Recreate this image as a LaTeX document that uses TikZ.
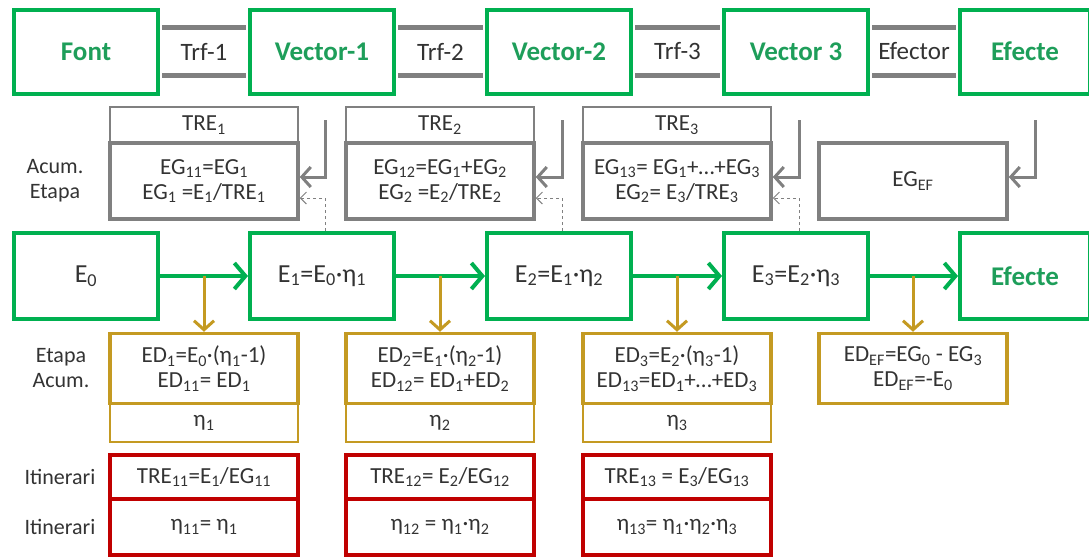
\documentclass[tikz,border=0pt]{standalone}
\usepackage{fontspec}
\setmainfont{Carlito}
\usetikzlibrary{arrows.meta}
\definecolor{grn}{HTML}{00B050}
\definecolor{gtxt}{HTML}{1E9E5A}
\definecolor{gry}{HTML}{808080}
\definecolor{gld}{HTML}{C49A22}
\definecolor{rd}{HTML}{C00000}
\definecolor{ink}{HTML}{333333}
\newcommand{\sbs}[1]{\textsubscript{#1}}
\begin{document}
\begin{tikzpicture}[x=1pt,y=-1pt,
  every node/.style={inner sep=0pt,text=ink,align=center,font=\fontsize{23}{25}\selectfont},
  srcbox/.style={draw=grn,line width=4pt,minimum width=144pt,minimum height=84pt,text=gtxt,font=\fontsize{27}{30}\selectfont\bfseries},
  ebox/.style={draw=grn,line width=4pt,minimum width=144pt,minimum height=86pt,font=\fontsize{26}{30}\selectfont},
  trf/.style={font=\fontsize{25}{30}\selectfont},
  bandline/.style={gry,line width=5pt,shorten <=2pt,shorten >=2pt},
  trebox/.style={draw=gry,line width=1.2pt,minimum width=188pt,minimum height=36pt},
  egbox/.style={draw=gry,line width=3.5pt,minimum width=188pt,minimum height=76pt},
  edbox/.style={draw=gld,line width=3.5pt,minimum width=188pt,minimum height=70pt},
  etabox/.style={draw=gld,line width=1.2pt,minimum width=188pt,minimum height=38pt},
  itbox/.style={draw=rd,line width=3.5pt,minimum width=188pt},
  lbl/.style={font=\fontsize{22}{25}\selectfont},
  greenarr/.style={grn,line width=4pt,-{Straight Barb[length=11pt,width=26pt]}},
  goldarr/.style={gld,line width=3pt,-{Straight Barb[length=9pt,width=20pt]}},
  grayarr/.style={gry,line width=3pt,-{Straight Barb[length=9pt,width=20pt]}},
  dasharr/.style={gry,line width=1pt,dash pattern=on 3pt off 3pt,-{Straight Barb[length=6pt,width=12pt]}}]
\useasboundingbox (0,0) rectangle (1089,558);
\node[srcbox] (font) at (86,51.5) {Font};
\node[srcbox] (v1) at (322,51.5) {Vector-1};
\node[srcbox] (v2) at (559,51.5) {Vector-2};
\node[srcbox] (v3) at (796,51.5) {Vector 3};
\node[srcbox,minimum width=130pt] (efa) at (1025,51.5) {Efecte};
\foreach \a/\b/\t in {font/v1/Trf-1,v1/v2/Trf-2,v2/v3/Trf-3,v3/efa/Efector} {
  \draw[bandline] ([yshift=24pt]\a.east) -- ([yshift=24pt]\b.west);
  \draw[bandline] ([yshift=-24pt]\a.east) -- ([yshift=-24pt]\b.west);
  \path (\a.east) -- node[trf] {\t} (\b.west);
}
\node[trebox] (tre1) at (204,125) {TRE\sbs{1}};
\node[trebox] (tre2) at (440,125) {TRE\sbs{2}};
\node[trebox] (tre3) at (677,125) {TRE\sbs{3}};
\node[egbox] (eg1) at (204,181) {EG\sbs{11}=EG\sbs{1}\\EG\sbs{1} =E\sbs{1}/TRE\sbs{1}};
\node[egbox] (eg2) at (440,181) {EG\sbs{12}=EG\sbs{1}+EG\sbs{2}\\EG\sbs{2} =E\sbs{2}/TRE\sbs{2}};
\node[egbox] (eg3) at (677,181) {EG\sbs{13}= EG\sbs{1}+…+EG\sbs{3}\\EG\sbs{2}= E\sbs{3}/TRE\sbs{3}};
\node[egbox] (eg4) at (913,181) {EG\sbs{EF}};
\node[lbl] (acum1) at (55,181) {Acum.\\Etapa};
\node[ebox] (e0) at (86,276) {E\sbs{0}};
\node[ebox] (e1) at (322,276) {E\sbs{1}=E\sbs{0}·η\sbs{1}};
\node[ebox] (e2) at (559,276) {E\sbs{2}=E\sbs{1}·η\sbs{2}};
\node[ebox] (e3) at (796,276) {E\sbs{3}=E\sbs{2}·η\sbs{3}};
\node[ebox,minimum width=130pt,text=gtxt,font=\fontsize{27}{30}\selectfont\bfseries] (efb) at (1025,276) {Efecte};
\draw[greenarr] (e0) -- (e1);
\draw[greenarr] (e1) -- (e2);
\draw[greenarr] (e2) -- (e3);
\draw[greenarr] (e3) -- (efb);
\node[edbox] (ed1) at (204,368.5) {ED\sbs{1}=E\sbs{0}·(η\sbs{1}-1)\\ED\sbs{11}= ED\sbs{1}};
\node[edbox] (ed2) at (440,368.5) {ED\sbs{2}=E\sbs{1}·(η\sbs{2}-1)\\ED\sbs{12}= ED\sbs{1}+ED\sbs{2}};
\node[edbox] (ed3) at (677,368.5) {ED\sbs{3}=E\sbs{2}·(η\sbs{3}-1)\\ED\sbs{13}=ED\sbs{1}+…+ED\sbs{3}};
\node[edbox] (ed4) at (913,368.5) {ED\sbs{EF}=EG\sbs{0} - EG\sbs{3}\\ED\sbs{EF}=-E\sbs{0}};
\node[lbl] (etapa2) at (61,368.5) {Etapa\\Acum.};
\draw[goldarr] (ed1.north |- e0.east) -- (ed1.north);
\draw[goldarr] (ed2.north |- e1.east) -- (ed2.north);
\draw[goldarr] (ed3.north |- e2.east) -- (ed3.north);
\draw[goldarr] (ed4.north |- e3.east) -- (ed4.north);
\node[etabox] (eta1) at (204,423) {η\sbs{1}};
\node[etabox] (eta2) at (440,423) {η\sbs{2}};
\node[etabox] (eta3) at (677,423) {η\sbs{3}};
\node[itbox,minimum height=44pt] (it1) at (204,477) {TRE\sbs{11}=E\sbs{1}/EG\sbs{11}};
\node[itbox,minimum height=44pt] (it2) at (440,477) {TRE\sbs{12}= E\sbs{2}/EG\sbs{12}};
\node[itbox,minimum height=44pt] (it3) at (677,477) {TRE\sbs{13} = E\sbs{3}/EG\sbs{13}};
\node[itbox,minimum height=56pt] (ie1) at (204,527) {η\sbs{11}= η\sbs{1}};
\node[itbox,minimum height=56pt] (ie2) at (440,527) {η\sbs{12} = η\sbs{1}·η\sbs{2}};
\node[itbox,minimum height=56pt] (ie3) at (677,527) {η\sbs{13}= η\sbs{1}·η\sbs{2}·η\sbs{3}};
\node[lbl] (itin1) at (60,477) {Itinerari};
\node[lbl] (itin2) at (60,527) {Itinerari};
\coordinate (k1) at (325,120);
\coordinate (k2) at (562,120);
\coordinate (k3) at (799,120);
\coordinate (k4) at (1035,120);
\draw[grayarr] (k1) |- ([yshift=4pt]eg1.east);
\draw[grayarr] (k2) |- ([yshift=4pt]eg2.east);
\draw[grayarr] (k3) |- ([yshift=4pt]eg3.east);
\draw[grayarr] (k4) |- ([yshift=4pt]eg4.east);
\draw[dasharr] ([xshift=3pt]e1.north) |- ([yshift=-17pt]eg1.east);
\draw[dasharr] ([xshift=3pt]e2.north) |- ([yshift=-17pt]eg2.east);
\draw[dasharr] ([xshift=3pt]e3.north) |- ([yshift=-17pt]eg3.east);
\end{tikzpicture}
\end{document}
